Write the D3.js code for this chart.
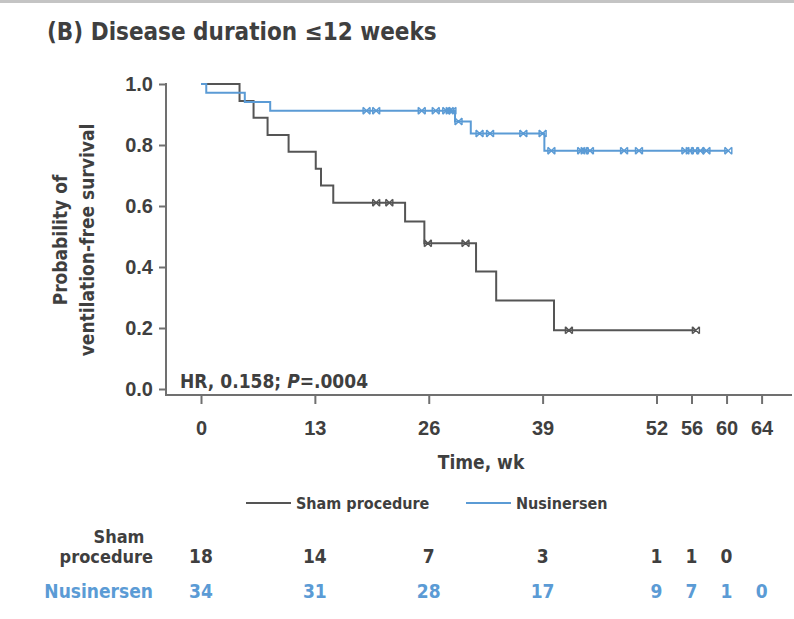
<!DOCTYPE html>
<html>
<head>
<meta charset="utf-8">
<script src="https://cdn.jsdelivr.net/npm/d3@7"></script>
<style>
	body { margin: 0; background: #fff; }
	svg { display: block; font-family: "Liberation Sans Narrow", "DejaVu Sans Condensed", "Roboto Condensed", sans-serif; font-weight: bold; }
</style>
</head>
<body>
<svg></svg>
<script>
// step curves (time in weeks, survival probability)
const shamTimes = [0, 4.4, 6.0, 7.6, 10.0, 13.1, 13.7, 15.1, 23.3, 25.5, 31.4, 33.7, 40.3];
const shamSurv = [1.0, 0.944, 0.889, 0.833, 0.778, 0.722, 0.667, 0.611, 0.549, 0.478, 0.385, 0.290, 0.193];
const shamEnd = 56.5;
const shamCensor = [20.0, 21.5, 25.9, 30.2, 42.0, 56.5];

const nusTimes = [0, 0.6, 5.0, 7.9, 29.0, 30.8, 39.2];
const nusSurv = [1.0, 0.971, 0.941, 0.912, 0.877, 0.838, 0.781];
const nusEnd = 60.2;
const nusCensor = [18.9, 20.0, 25.2, 26.8, 28.0, 28.4, 28.7, 29.4, 31.8, 33.0, 36.8, 39.0,
	40.0, 43.4, 43.8, 44.4, 48.3, 50.0, 55.3, 55.8, 56.4, 57.0, 57.7, 60.2];

const xTicks = [0, 13, 26, 39, 52, 56, 60, 64];
const yTicks = [0, 0.2, 0.4, 0.6, 0.8, 1.0];

const riskTimes = [0, 13, 26, 39, 52, 56, 60, 64];
const shamRisk = [18, 14, 7, 3, 1, 1, 0];
const nusRisk = [34, 31, 28, 17, 9, 7, 1, 0];

const width = 794;
const height = 619;
const textColor = '#3f3f3f';
const axisColor = '#707070';
const shamColor = '#555555';
const nusColor = '#5b9bd5';

const x = d3.scaleLinear().domain([0, 64]).range([201, 761.6]);
const y = d3.scaleLinear().domain([0, 1]).range([389, 84]);
const axisX = 166;
const axisY = 395;

const svg = d3.select('svg')
	.attr('width', width)
	.attr('height', height);

// top rule
svg.append('rect')
	.attr('x', 0).attr('y', 0)
	.attr('width', width).attr('height', 3)
	.attr('fill', '#c4c4c4');

svg.append('text')
	.attr('x', 47).attr('y', 40)
	.attr('font-size', 24)
	.attr('fill', textColor)
	.text('(B) Disease duration ≤12 weeks');

// y axis
const yAxisG = svg.append('g')
	.attr('transform', `translate(${axisX},0)`)
	.call(d3.axisLeft(y).tickValues(yTicks).tickSize(7).tickSizeOuter(0).tickPadding(6).tickFormat(d3.format('.1f')));
yAxisG.select('.domain').remove();
yAxisG.selectAll('line').attr('stroke', axisColor).attr('stroke-width', 2);
yAxisG.selectAll('text')
	.attr('font-size', 20).attr('font-family', null).attr('fill', textColor);
svg.append('line')
	.attr('x1', axisX).attr('x2', axisX)
	.attr('y1', y(1) - 1).attr('y2', axisY + 1)
	.attr('stroke', axisColor).attr('stroke-width', 2);

const yLabel = svg.append('text')
	.attr('transform', 'translate(67,240) rotate(-90)')
	.attr('text-anchor', 'middle')
	.attr('font-size', 19)
	.attr('fill', textColor);
yLabel.append('tspan').attr('x', 0).attr('dy', 0).text('Probability of');
yLabel.append('tspan').attr('x', 0).attr('dy', 27).text('ventilation-free survival');

// x axis
const xAxisG = svg.append('g')
	.attr('transform', `translate(0,${axisY})`)
	.call(d3.axisBottom(x).tickValues(xTicks).tickSize(9).tickSizeOuter(0).tickPadding(17));
xAxisG.select('.domain').remove();
xAxisG.selectAll('line').attr('stroke', axisColor).attr('stroke-width', 2);
xAxisG.selectAll('text')
	.attr('font-size', 20).attr('font-family', null).attr('fill', textColor);
svg.append('line')
	.attr('x1', axisX - 1).attr('x2', 792)
	.attr('y1', axisY).attr('y2', axisY)
	.attr('stroke', axisColor).attr('stroke-width', 2);

svg.append('text')
	.attr('x', 481).attr('y', 469)
	.attr('text-anchor', 'middle')
	.attr('font-size', 19)
	.attr('fill', textColor)
	.text('Time, wk');

// HR annotation
const hr = svg.append('text')
	.attr('x', 180).attr('y', 388)
	.attr('font-size', 19)
	.attr('fill', textColor);
hr.append('tspan').text('HR, 0.158; ');
hr.append('tspan').attr('font-style', 'italic').text('P');
hr.append('tspan').text('=.0004');

// curves
function stepPoints(times, surv, end) {
	const pts = times.map((t, i) => [t, surv[i]]);
	pts.push([end, surv[surv.length - 1]]);
	return pts;
}
function survAt(times, surv, t) {
	let s = surv[0];
	times.forEach((tt, i) => { if (tt <= t) s = surv[i]; });
	return s;
}
const line = d3.line()
	.x(d => x(d[0]))
	.y(d => y(d[1]))
	.curve(d3.curveStepAfter);

const marker = 'M-3.5,-3.5L3.5,3.5M-3.5,3.5L3.5,-3.5M-3.5,-3.5V3.5M3.5,-3.5V3.5';

function drawCurve(times, surv, end, censor, color) {
	svg.append('path')
		.datum(stepPoints(times, surv, end))
		.attr('d', line)
		.attr('fill', 'none')
		.attr('stroke', color)
		.attr('stroke-width', 2);
	svg.append('g').selectAll('path').data(censor)
		.enter().append('path')
		.attr('transform', d => `translate(${x(d)},${y(survAt(times, surv, d))})`)
		.attr('d', marker)
		.attr('fill', 'none')
		.attr('stroke', color)
		.attr('stroke-width', 1.4);
}
drawCurve(shamTimes, shamSurv, shamEnd, shamCensor, shamColor);
drawCurve(nusTimes, nusSurv, nusEnd, nusCensor, nusColor);

// legend
const legend = [
	{ name: 'Sham procedure', color: shamColor, x: 246 },
	{ name: 'Nusinersen', color: nusColor, x: 466 }
];
const lg = svg.append('g').selectAll('g').data(legend).enter().append('g')
	.attr('transform', d => `translate(${d.x},503)`);
lg.append('line')
	.attr('x1', 0).attr('x2', 45)
	.attr('stroke', d => d.color).attr('stroke-width', 2);
lg.append('text')
	.attr('x', 50).attr('y', 6)
	.attr('font-size', 16)
	.attr('fill', textColor)
	.text(d => d.name);

// number at risk
svg.append('text')
	.attr('x', 119).attr('y', 543)
	.attr('text-anchor', 'middle')
	.attr('font-size', 18).attr('fill', textColor)
	.text('Sham');
svg.append('text')
	.attr('x', 153).attr('y', 563)
	.attr('text-anchor', 'end')
	.attr('font-size', 18).attr('fill', textColor)
	.text('procedure');
svg.append('text')
	.attr('x', 153).attr('y', 598)
	.attr('text-anchor', 'end')
	.attr('font-size', 19).attr('fill', nusColor)
	.text('Nusinersen');

svg.append('g').selectAll('text').data(shamRisk).enter().append('text')
	.attr('x', (d, i) => x(riskTimes[i]))
	.attr('y', 563)
	.attr('text-anchor', 'middle')
	.attr('font-size', 19).attr('fill', textColor)
	.text(d => d);
svg.append('g').selectAll('text').data(nusRisk).enter().append('text')
	.attr('x', (d, i) => x(riskTimes[i]))
	.attr('y', 598)
	.attr('text-anchor', 'middle')
	.attr('font-size', 19).attr('fill', nusColor)
	.text(d => d);
</script>
</body>
</html>
